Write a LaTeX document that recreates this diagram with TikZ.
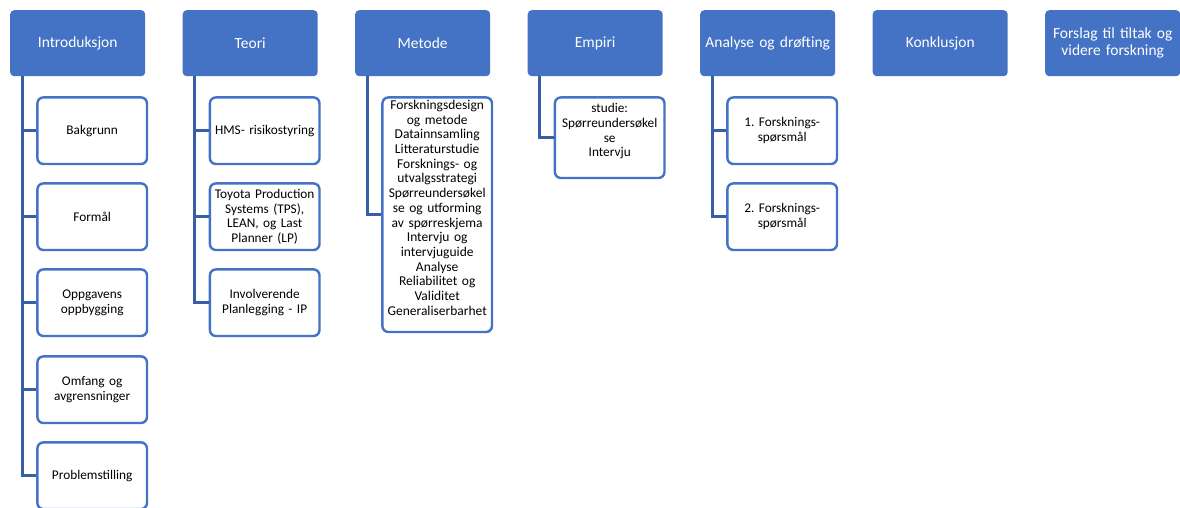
\documentclass[tikz,border=0pt]{standalone}
\usepackage{fontspec}
\setmainfont{Carlito}
\frenchspacing
\definecolor{accent}{HTML}{4472C4}
\definecolor{connc}{HTML}{3A5DA8}
\newcommand{\bottompad}[1]{\par\vspace{#1}\hrule height 0pt\relax}
\tikzset{
  x=1pt,y=-1pt,
  topbox/.style={anchor=north west,fill=accent,draw=none,rounded corners=4pt,
    minimum width=135pt,minimum height=66pt,text width=130pt,align=center,
    text=white,inner sep=2pt,font=\fontsize{15.5}{17.3}\selectfont},
  childbox/.style={anchor=north west,fill=white,draw=accent,line width=2.4pt,rounded corners=6pt,
    minimum width=109.6pt,minimum height=66.6pt,text width=104pt,align=center,
    inner sep=2pt,font=\fontsize{13.3}{14.8}\selectfont},
  conn/.style={draw=connc,line width=3pt}
}
\begin{document}
\begin{tikzpicture}
\useasboundingbox (0,0) rectangle (1180,507);
\clip (0,0) rectangle (1180,507);
% top level
\node[topbox] (t1) at (10,10) {Introduksjon};
\node[topbox] (t2) at (182.5,10) {Teori};
\node[topbox] (t3) at (355,10) {Metode};
\node[topbox] (t4) at (527.5,10) {Empiri};
\node[topbox] (t5) at (700,10) {Analyse og drøfting};
\node[topbox] (t6) at (872.5,10) {Konklusjon};
\node[topbox] (t7) at (1045,10) {Forslag til tiltak og\\videre forskning};
% connector start points
\coordinate (s1) at (22,76);
\coordinate (s2) at (194.5,76);
\coordinate (s3) at (367,76);
\coordinate (s4) at (539.5,76);
\coordinate (s5) at (712,76);
% Introduksjon children
\node[childbox] (a1) at (36.2,96.2) {Bakgrunn};
\node[childbox] (a2) at (36.2,182.2) {Formål};
\node[childbox] (a3) at (36.2,268.2) {Oppgavens\\oppbygging};
\node[childbox] (a4) at (36.2,355.2) {Omfang og\\avgrensninger};
\node[childbox] (a5) at (36.2,441.2) {Problemstilling};
% Teori children
\node[childbox] (b1) at (208.7,96.2) {HMS- risikostyring};
\node[childbox] (b2) at (208.7,182.2) {Toyota Production\\Systems (TPS),\\LEAN, og Last\\Planner (LP)};
\node[childbox] (b3) at (208.7,268.2) {Involverende\\Planlegging - IP};
% Metode child
\node[childbox,minimum height=234.6pt,font=\fontsize{13.5}{14.7}\selectfont] (c1) at (381.2,96.2)
  {Forskningsdesign\\og metode\\Datainnsamling\\Litteraturstudie\\Forsknings- og\\utvalgsstrategi\\Spørreundersøkel\\se og utforming\\av spørreskjema\\Intervju og\\intervjuguide\\Analyse\\Reliabilitet og\\Validitet\\Generaliserbarhet\bottompad{14pt}};
% Empiri child
\node[childbox,minimum height=80.6pt] (d1) at (553.7,96.2) {studie:\\Spørreundersøkel\\se\\Intervju\bottompad{13pt}};
% Analyse children
\node[childbox] (e1) at (726.2,96.2) {1. Forsknings-\\spørsmål};
\node[childbox] (e2) at (726.2,182.2) {2. Forsknings-\\spørsmål};
% connectors
\draw[conn] (s1) |- (a1.west);
\draw[conn] (s1) |- (a2.west);
\draw[conn] (s1) |- (a3.west);
\draw[conn] (s1) |- (a4.west);
\draw[conn] (s1) |- (a5.west);
\draw[conn] (s2) |- (b1.west);
\draw[conn] (s2) |- (b2.west);
\draw[conn] (s2) |- (b3.west);
\draw[conn] (s3) |- (c1.west);
\draw[conn] (s4) |- (d1.west);
\draw[conn] (s5) |- (e1.west);
\draw[conn] (s5) |- (e2.west);
\end{tikzpicture}
\end{document}
